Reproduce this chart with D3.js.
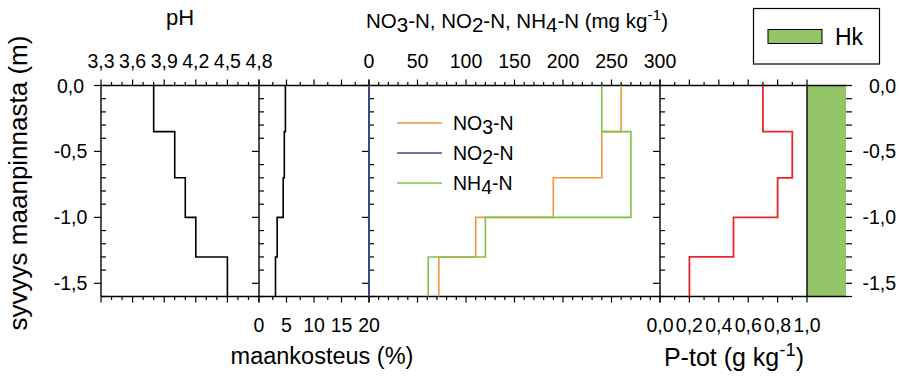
<!DOCTYPE html>
<html>
<head>
<meta charset="utf-8">
<script src="https://cdn.jsdelivr.net/npm/d3@7"></script>
<style>
  body { margin: 0; background: #fff; }
  svg text { font-family: "Liberation Sans", Arial, sans-serif; fill: #000; }
</style>
</head>
<body>
<svg id="chart" width="900" height="381"></svg>
<script>
// Soil profile: layer boundaries (depth in m, negative downward)
const layerTop    = [0, -0.35, -0.7, -1.0, -1.3];
const layerBottom = [-0.35, -0.7, -1.0, -1.3, -1.6];

// Measured values per layer
const pH       = [3.8, 4.0, 4.1, 4.2, 4.5];
const moisture = [4.8, 4.6, 4.4, 3.3, 3.0];
const no3N     = [260, 240, 190, 110, 72];
const no2N     = [0.2, 0.2, 0.2, 0.2, 0.2];
const nh4N     = [240, 270, 270, 120, 61];
const pTot     = [0.70, 0.90, 0.80, 0.50, 0.20];

// Soil class column
const soilClass  = ["Hk"];
const soilTop    = [0];
const soilBottom = [-1.6];

// Tick values
const depthTicks   = [0, -0.5, -1.0, -1.5];
const pHTicks      = [3.3, 3.6, 3.9, 4.2, 4.5, 4.8];
const moistTicks   = [0, 5, 10, 15, 20];
const nTicks       = [0, 50, 100, 150, 200, 250, 300];
const pTicks       = [0, 0.2, 0.4, 0.6, 0.8, 1.0];

const fi = d3.formatLocale({decimal: ",", thousands: " ", grouping: [3], currency: ["", ""], minus: "-"});
const f1 = fi.format(".1f");
const f0 = fi.format("d");

const TICK_FONT = 19.5;
const svg = d3.select("#chart");

// Scales
const y   = d3.scaleLinear([0, -1.6], [85.5, 296.5]);
const xPH = d3.scaleLinear([3.3, 4.8], [101, 259]);
const xM  = d3.scaleLinear([0, 20], [259, 369]);
const xN  = d3.scaleLinear([0, 300], [369, 660]);
const xP  = d3.scaleLinear([0, 1.0], [660, 807]);
const xHk = d3.scaleBand(soilClass, [807, 846]);

const yTop = y(0), yBot = y(-1.6);
const stepRange = (a, b, s) => d3.range(Math.round((b - a) / s) + 1).map(i => +(a + i * s).toFixed(6));

// Hk soil column
svg.append("g").selectAll("rect").data(soilClass).join("rect")
  .attr("x", d => xHk(d)).attr("width", xHk.bandwidth())
  .attr("y", (d, i) => y(soilTop[i])).attr("height", (d, i) => y(soilBottom[i]) - y(soilTop[i]))
  .attr("fill", "#93c467");

// Horizontal ticks for a panel (top and bottom)
function xTicks(scale, minorStep, majorVals, labelsTop, labelsBottom, fmt) {
  const [a, b] = scale.domain();
  const minor = stepRange(a, b, minorStep);
  const g = svg.append("g").attr("stroke", "#000").attr("stroke-width", 1.2);
  minor.forEach(v => {
    const isMaj = majorVals.some(m => Math.abs(m - v) < 1e-6);
    const len = isMaj ? 6 : 3.5;
    g.append("line").attr("x1", scale(v)).attr("x2", scale(v)).attr("y1", yTop).attr("y2", yTop - len);
    g.append("line").attr("x1", scale(v)).attr("x2", scale(v)).attr("y1", yBot).attr("y2", yBot + len);
  });
  if (labelsTop) {
    svg.append("g").selectAll("text").data(majorVals).join("text")
      .attr("x", d => scale(d)).attr("y", 68).attr("text-anchor", "middle")
      .attr("font-size", TICK_FONT).text(fmt);
  }
  if (labelsBottom) {
    svg.append("g").selectAll("text").data(majorVals).join("text")
      .attr("x", d => scale(d)).attr("y", 332).attr("text-anchor", "middle")
      .attr("font-size", TICK_FONT).text(fmt);
  }
}

xTicks(xPH, 0.1, pHTicks, true, false, f1);
xTicks(xM, 2.5, moistTicks, false, true, f0);
xTicks(xN, 10, nTicks, true, false, f0);
xTicks(xP, 0.1, pTicks, false, true, f1);

// Vertical panel axes: major ticks outward, minor ticks inward
const depthMinor = stepRange(-1.6, 0, 0.1);
function yAxisAt(x) {
  const g = svg.append("g").attr("stroke", "#000").attr("stroke-width", 1.2);
  depthMinor.forEach(v => {
    const isMaj = depthTicks.some(m => Math.abs(m - v) < 1e-6);
    if (isMaj) g.append("line").attr("x1", x - 7).attr("x2", x).attr("y1", y(v)).attr("y2", y(v));
    else g.append("line").attr("x1", x).attr("x2", x + 5).attr("y1", y(v)).attr("y2", y(v));
  });
}
[xPH(3.3), xM(0), xN(0), xP(0)].forEach(yAxisAt);

// Right depth axis
const gr = svg.append("g").attr("stroke", "#000").attr("stroke-width", 1.2);
depthMinor.forEach(v => {
  gr.append("line").attr("x1", xHk.range()[1]).attr("x2", xHk.range()[1] + 6).attr("y1", y(v)).attr("y2", y(v));
});

// Depth labels
svg.append("g").selectAll("text").data(depthTicks).join("text")
  .attr("x", 70.5).attr("y", d => y(d)).attr("dy", "0.36em").attr("text-anchor", "middle")
  .attr("font-size", TICK_FONT).text(f1);
svg.append("g").selectAll("text").data(depthTicks).join("text")
  .attr("x", 896).attr("y", d => y(d)).attr("dy", "0.36em").attr("text-anchor", "end")
  .attr("font-size", TICK_FONT).text(f1);

// Frame lines
const frame = svg.append("g").attr("stroke", "#000").attr("stroke-width", 1.4);
frame.append("line").attr("x1", xPH(3.3)).attr("x2", xHk.range()[1]).attr("y1", yTop).attr("y2", yTop);
frame.append("line").attr("x1", xPH(3.3)).attr("x2", xHk.range()[1]).attr("y1", yBot).attr("y2", yBot);
[xPH(3.3), xM(0), xN(0), xP(0), xP(1.0)].forEach(x => {
  frame.append("line").attr("x1", x).attr("x2", x).attr("y1", yTop).attr("y2", yBot);
});

// Step profile lines
function profile(values, xs) {
  const pts = [];
  values.forEach((v, i) => { pts.push([xs(v), y(layerTop[i])]); pts.push([xs(v), y(layerBottom[i])]); });
  return d3.line()(pts);
}
const lines = [
  [pH, xPH, "#000", 1.6],
  [moisture, xM, "#000", 1.6],
  [no3N, xN, "#f5963e", 1.6],
  [nh4N, xN, "#7fc241", 1.6],
  [no2N, xN, "#3b4b94", 1.6],
  [pTot, xP, "#e8262a", 1.8]
];
lines.forEach(([vals, xs, col, w]) => {
  svg.append("path").attr("d", profile(vals, xs)).attr("fill", "none")
    .attr("stroke", col).attr("stroke-width", w);
});

// Legend for nitrogen series
const legendItems = [["NO", "3", "#f5963e"], ["NO", "2", "#3b4b94"], ["NH", "4", "#7fc241"]];
const lg = svg.append("g");
legendItems.forEach(([base, sub, col], i) => {
  const yy = 123 + i * 30;
  lg.append("line").attr("x1", 397).attr("x2", 442).attr("y1", yy).attr("y2", yy)
    .attr("stroke", col).attr("stroke-width", 1.6);
  const t = lg.append("text").attr("x", 453).attr("y", yy + 7).attr("font-size", 19.5);
  t.append("tspan").text(base);
  t.append("tspan").attr("dy", 4).text(sub);
  t.append("tspan").attr("dy", -4).text("-N");
});

// Titles
svg.append("text").attr("x", 180).attr("y", 25).attr("text-anchor", "middle").attr("font-size", 22).text("pH");

const nt = svg.append("text").attr("x", 517).attr("y", 28).attr("text-anchor", "middle").attr("font-size", 20.5);
[["NO", 0], ["3", 4], ["-N, NO", -4], ["2", 4], ["-N, NH", -4], ["4", 4], ["-N (mg kg", -4], ["-1", -8], [")", 8]]
  .forEach(([s, dy]) => {
    const ts = nt.append("tspan").attr("dy", dy).text(s);
    if (s === "-1") ts.attr("font-size", 15.5);
  });

svg.append("text").attr("x", 322).attr("y", 364).attr("text-anchor", "middle").attr("font-size", 23.5).text("maankosteus (%)");

const pt = svg.append("text").attr("x", 734).attr("y", 366).attr("text-anchor", "middle").attr("font-size", 25);
pt.append("tspan").text("P-tot (g kg");
pt.append("tspan").attr("dy", -10).attr("font-size", 18.5).text("-1");
pt.append("tspan").attr("dy", 10).text(")");

svg.append("text").attr("transform", "translate(27,183) rotate(-90)").attr("text-anchor", "middle")
  .attr("font-size", 26).text("syvyys maanpinnasta (m)");

// Soil class legend
const hk = svg.append("g");
hk.append("rect").attr("x", 753.5).attr("y", 8.5).attr("width", 126).attr("height", 55.5)
  .attr("fill", "#fff").attr("stroke", "#000").attr("stroke-width", 1.2);
hk.append("rect").attr("x", 768).attr("y", 29.5).attr("width", 54).attr("height", 14)
  .attr("fill", "#93c467").attr("stroke", "#000").attr("stroke-width", 1);
hk.append("text").attr("x", 835).attr("y", 45).attr("font-size", 23).text(soilClass[0]);
</script>
</body>
</html>
